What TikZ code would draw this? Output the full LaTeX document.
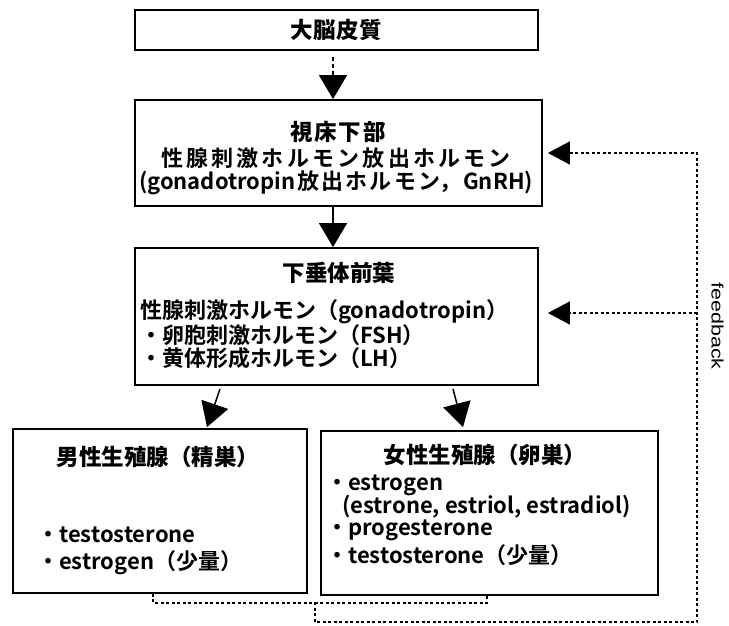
\documentclass[tikz,border=0pt]{standalone}
\usepackage{fontspec}
\setmainfont{Noto Sans CJK JP}
\newfontfamily\bodyfont{Noto Sans CJK JP Bold}
\newfontfamily\ttlfont{Noto Sans CJK JP Black}
\newfontfamily\fbfont{Liberation Sans}
\usetikzlibrary{arrows.meta}
\begin{document}
\begin{tikzpicture}[x=1pt,y=-1pt,
  box/.style={draw, line width=1.8pt, inner sep=0pt, rectangle},
  txt/.style={inner sep=0pt, font=\bodyfont\fontsize{22}{22}\selectfont},
  ttl/.style={inner sep=0pt, font=\ttlfont\fontsize{22.5}{22.5}\selectfont},
  arr/.style={-{Triangle[width=28pt,length=24pt]}, line width=1.5pt},
  fb/.style={line width=1.3pt, dash pattern=on 3pt off 2.5pt},
  fbarr/.style={-{Triangle[width=23pt,length=22pt]}}]
\useasboundingbox (0,0) rectangle (729,626);
% boxes
\node[box, ttl, minimum width=403pt, minimum height=40pt] (cortex) at (336.5,30) {\makebox[92pt][s]{大\hfill 脳\hfill 皮\hfill 質}};
\node[box, minimum width=407pt, minimum height=106pt] (hypo) at (338.5,153) {};
\node[box, minimum width=403pt, minimum height=137pt] (pit) at (336.5,316.5) {};
\node[box, minimum width=294pt, minimum height=164pt] (male) at (160,511) {};
\node[box, minimum width=337pt, minimum height=164pt] (fem) at (489.5,513) {};
% texts
\node[ttl] (hypoT) at (338,132) {\makebox[96pt][s]{視\hfill 床\hfill 下\hfill 部}};
\node[txt] (hypo1) at (336,158) {\makebox[350pt][s]{性\hfill 腺\hfill 刺\hfill 激\hfill ホ\hfill ル\hfill モ\hfill ン\hfill 放\hfill 出\hfill ホ\hfill ル\hfill モ\hfill ン}};
\node[txt] (hypo2) at (336,183) {\makebox[394pt][s]{(gonadotropin\hfill 放\hfill 出\hfill ホ\hfill ル\hfill モ\hfill ン，\hfill GnRH)}};
\node[ttl] (pitT) at (339,273) {下垂体前葉};
\node[txt, anchor=west] (pit1) at (140,312) {性腺刺激ホルモン（gonadotropin）};
\node[txt, anchor=west] (pit2) at (140,335) {・卵胞刺激ホルモン（FSH）};
\node[txt, anchor=west] (pit3) at (140,358) {・黄体形成ホルモン（LH）};
\node[ttl] (maleT) at (158,457) {男性生殖腺（精巣）};
\node[txt, anchor=west] (male1) at (37,535) {・testosterone};
\node[txt, anchor=west] (male2) at (37,563) {・estrogen（少量）};
\node[ttl] (femT) at (485,455) {女性生殖腺（卵巣）};
\node[txt, anchor=west] (fem1) at (326,485) {・estrogen};
\node[txt, anchor=west] (fem2) at (342,507) {(estrone, estriol, estradiol)};
\node[txt, anchor=west] (fem3) at (326,530) {・progesterone};
\node[txt, anchor=west] (fem4) at (326,555) {・testosterone（少量）};
\node[rotate=-90, inner sep=0pt, font=\fbfont\fontsize{16.5}{16.5}\selectfont] (fbl) at (717.5,326) {\scalebox{1.3}[1]{feedback}};
% arrows
\draw[arr, dash pattern=on 4pt off 3pt] ([shift={(-3.5,6)}]cortex.south) -- ([xshift=-5.5pt]hypo.north);
\draw[arr] ([xshift=-5.5pt]hypo.south) -- ([xshift=-3.5pt]pit.north);
\draw[arr] ([shift={(-116.5,3)}]pit.south) -- ([shift={(47,-1)}]male.north);
\draw[arr] ([shift={(116.5,3)}]pit.south) -- ([shift={(-26.5,-3)}]fem.north);
% feedback
\coordinate (j1) at (315,602);
\coordinate (c1) at (697,153);
\coordinate (c2) at (697,313);
\draw[fb] ([xshift=-7pt]male.south) -- ++(0,9) -| ([xshift=-2.5pt]fem.south);
\draw[fb, fbarr] (j1) |- (697,622) -- (c1) -- ([xshift=5pt]hypo.east);
\draw[fb, fbarr] (c2) -- ([shift={(9,-3.5)}]pit.east);
\end{tikzpicture}
\end{document}
